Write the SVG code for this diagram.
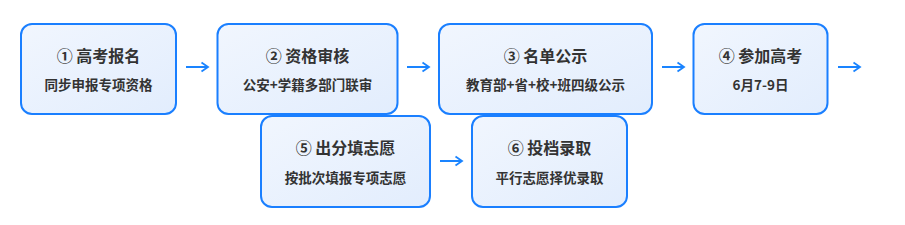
<svg xmlns="http://www.w3.org/2000/svg" width="905" height="225" viewBox="0 0 905 225">
<defs>
<linearGradient id="bg" x1="0" y1="0" x2="1" y2="1">
<stop offset="0" stop-color="#f1f6fe"/>
<stop offset="1" stop-color="#e2edfd"/>
</linearGradient>
<marker id="ah" markerWidth="12" markerHeight="12" refX="9" refY="6" orient="auto" markerUnits="userSpaceOnUse">
<path d="M2.5,1.5 L9,6 L2.5,10.5" fill="none" stroke="#1a84ff" stroke-width="1.8" stroke-linejoin="miter"/>
</marker>
</defs>
<style>
.box{fill:url(#bg);stroke:#1a7fff;stroke-width:2}
.t{font-family:"Noto Sans CJK SC","Noto Sans",sans-serif;font-size:16px;font-weight:bold;fill:#333;text-anchor:middle}
.s{font-family:"Noto Sans CJK SC","Noto Sans",sans-serif;font-size:13.5px;font-weight:bold;fill:#333;text-anchor:middle}
.c line{stroke:#1a84ff;stroke-width:2;marker-end:url(#ah)}
</style>
<rect width="905" height="225" fill="#fff"/>
<g id="n1"><rect class="box" x="21" y="24" width="155" height="90" rx="11"/><text class="t" x="98.5" y="62">① 高考报名</text><text class="s" x="98.5" y="90">同步申报专项资格</text></g>
<g id="n2"><rect class="box" x="217.5" y="24" width="180" height="90" rx="11"/><text class="t" x="307.5" y="62">② 资格审核</text><text class="s" x="307.5" y="90">公安+学籍多部门联审</text></g>
<g id="n3"><rect class="box" x="439" y="24" width="213" height="90" rx="11"/><text class="t" x="545.5" y="62">③ 名单公示</text><text class="s" x="545.5" y="90">教育部+省+校+班四级公示</text></g>
<g id="n4"><rect class="box" x="693.5" y="24" width="134" height="90" rx="11"/><text class="t" x="760.5" y="62">④ 参加高考</text><text class="s" x="760.5" y="90">6月7-9日</text></g>
<g id="n5"><rect class="box" x="261" y="116" width="169" height="91" rx="11"/><text class="t" x="345.5" y="154">⑤ 出分填志愿</text><text class="s" x="345.5" y="183">按批次填报专项志愿</text></g>
<g id="n6"><rect class="box" x="472" y="116" width="155" height="91" rx="11"/><text class="t" x="549.5" y="154">⑥ 投档录取</text><text class="s" x="549.5" y="183">平行志愿择优录取</text></g>
<g class="c">
<line x1="186" y1="67" x2="208" y2="67"/>
<line x1="407" y1="67" x2="429" y2="67"/>
<line x1="662" y1="67" x2="684" y2="67"/>
<line x1="838" y1="67" x2="860" y2="67"/>
<line x1="440" y1="161" x2="462" y2="161"/>
</g>
</svg>
